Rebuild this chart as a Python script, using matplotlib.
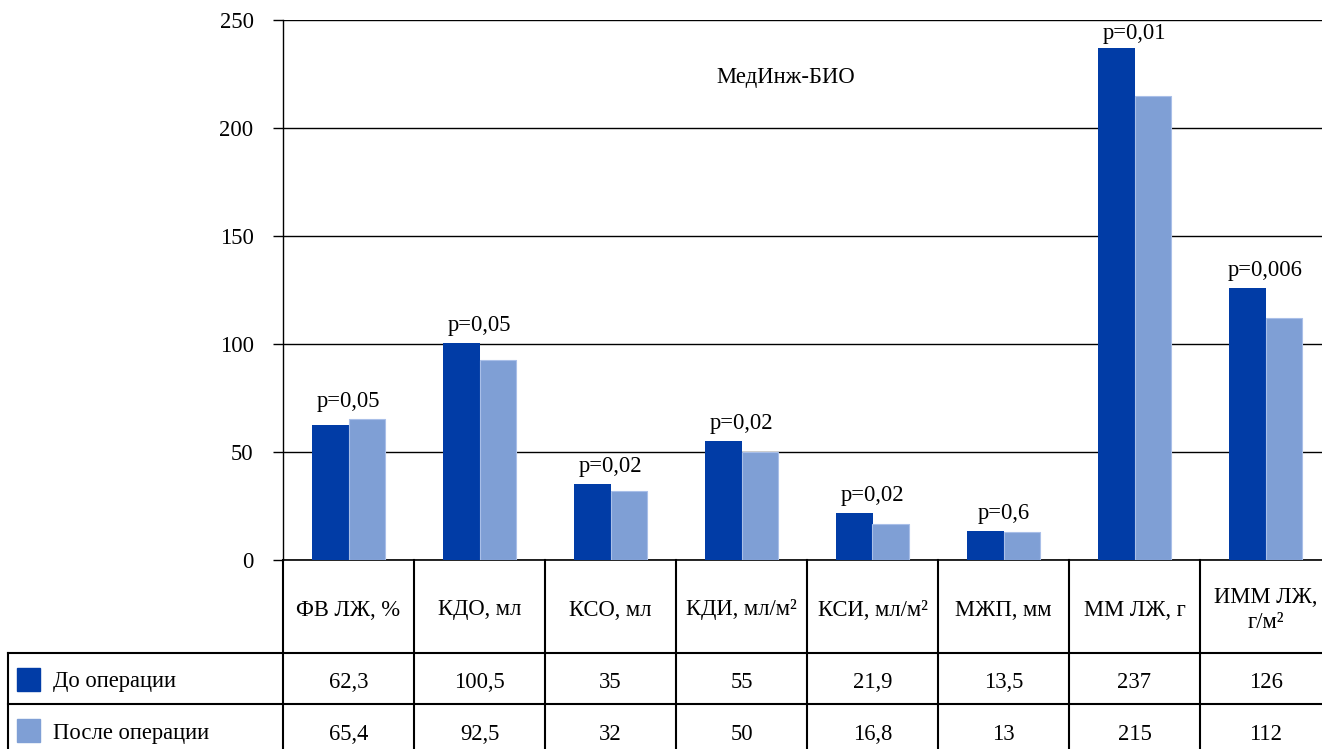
import matplotlib
matplotlib.use("Agg")
import matplotlib.pyplot as plt
from matplotlib.patches import Rectangle
from matplotlib.lines import Line2D
from matplotlib.transforms import blended_transform_factory, offset_copy
import numpy as np

categories = ["ФВ ЛЖ, %", "КДО, мл", "КСО, мл", "КДИ, мл/м²", "КСИ, мл/м²",
              "МЖП, мм", "ММ ЛЖ, г", "ИММ ЛЖ,\nг/м²"]
before = [62.3, 100.5, 35, 55, 21.9, 13.5, 237, 126]
after = [65.4, 92.5, 32, 50, 16.8, 13, 215, 112]
before_labels = ["62,3", "100,5", "35", "55", "21,9", "13,5", "237", "126"]
after_labels = ["65,4", "92,5", "32", "50", "16,8", "13", "215", "112"]
p_values = ["p=0,05", "p=0,05", "p=0,02", "p=0,02", "p=0,02", "p=0,6", "p=0,01", "p=0,006"]
series_names = ["До операции", "После операции"]
title = "МедИнж-БИО"

dark = "#013ca6"
light = "#7f9fd5"

plt.rcParams['font.family'] = ['Liberation Serif', 'DejaVu Serif']
FS = 16.3

W, H = 1322, 749
fig = plt.figure(figsize=(W / 100, H / 100), dpi=100)
fig.patch.set_facecolor("white")

def fy(px):
    return 1 - px / H

def fx(px):
    return px / W

ax = fig.add_axes([fx(283), fy(560), 1048 / W, 540 / H])
x = np.arange(len(categories))
bw = 0.2824
ax.bar(x - bw / 2, before, width=bw, color=dark, edgecolor="none", zorder=3)
ax.bar(x + bw / 2, after, width=bw, color=light, edgecolor="#a9bfe8", linewidth=0.8, zorder=3)

ax.set_xlim(-0.5, 7.5)
ax.set_ylim(0, 250)
ax.set_yticks(np.arange(0, 251, 50))
ax.tick_params(axis='y', direction='out', length=7.2, width=1, color='black',
               labelsize=FS, pad=14)
ax.set_xticks([])
ax.yaxis.grid(True, color='black', linewidth=1)
ax.set_axisbelow(True)
for s in ["top", "right"]:
    ax.spines[s].set_visible(False)
ax.spines["left"].set_linewidth(1)
ax.spines["bottom"].set_linewidth(1.2)

# p-value labels (shifted down slightly to center digits)
ptrans = offset_copy(ax.transData, fig=fig, x=0, y=-3, units='dots')
for i in range(len(categories)):
    ytop = max(before[i], after[i])
    yl = min(ytop + 9.5, 245)
    ax.text(x[i], yl, p_values[i], ha='center', va='center', fontsize=FS, zorder=4,
            transform=ptrans)

ax.text(0.48, 0.893, title, transform=ax.transAxes, ha='center', va='center', fontsize=FS)

# table
bt = blended_transform_factory(ax.transData, fig.transFigure)
lw = 1.5
for yy in [653, 704]:
    fig.add_artist(Line2D([fx(8), fx(1335)], [fy(yy), fy(yy)], color='black', lw=lw,
                          transform=fig.transFigure))
fig.add_artist(Line2D([fx(8), fx(8)], [fy(653), fy(760)], color='black', lw=lw,
                      transform=fig.transFigure))
for b in np.arange(-0.5, len(categories) + 0.5, 1.0):
    fig.add_artist(Line2D([b, b], [fy(560), fy(760)], color='black', lw=lw, transform=bt))

for i, c in enumerate(categories):
    fig.text(x[i], fy(610), c, transform=bt, ha='center', va='center', fontsize=FS)
    fig.text(x[i], fy(683), before_labels[i], transform=bt, ha='center', va='center', fontsize=FS)
    fig.text(x[i], fy(734), after_labels[i], transform=bt, ha='center', va='center', fontsize=FS)

for name, col, yc in zip(series_names, [dark, light], [679, 730]):
    fig.add_artist(Rectangle((fx(17), fy(yc + 11.5)), 23 / W, 23 / H, color=col,
                             transform=fig.transFigure))
    fig.text(fx(53), fy(yc + 3), name, ha='left', va='center', fontsize=FS)

fig.savefig("out.png", dpi=100)
